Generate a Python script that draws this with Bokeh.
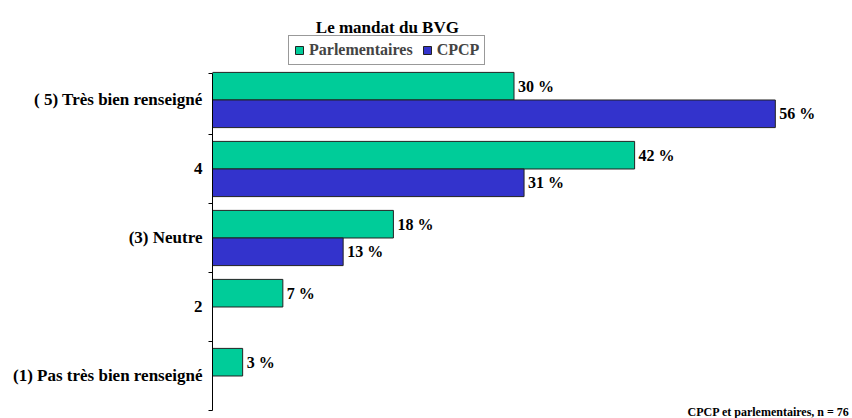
from bokeh.plotting import figure
from bokeh.models import ColumnDataSource, FixedTicker, Label, Legend, LegendItem
from bokeh.core.properties import value
from bokeh.embed import file_html
from bokeh.resources import INLINE

# ---- data ----
categories = ["(1) Pas très bien renseigné", "2", "(3) Neutre", "4", "( 5) Très bien renseigné"]
positions = [1, 2, 3, 4, 5]
parlementaires = [3, 7, 18, 42, 30]
cpcp = [0, 0, 13, 31, 56]
series_names = ["Parlementaires", "CPCP"]
title_text = "Le mandat du BVG"
footnote = "CPCP et  parlementaires, n = 76"

FONT = "Liberation Serif"
GREEN = "#00CC99"
BLUE = "#3333CC"

x_end = 63.68
y_start, y_end = 0.384, 6.442

p = figure(width=852, height=418, output_backend="svg", toolbar_location=None,
           x_range=(0, x_end), y_range=(y_start, y_end),
           min_border_left=212, min_border_right=0, min_border_top=0, min_border_bottom=0)
p.xaxis.visible = False
p.grid.visible = False
p.outline_line_color = None
p.background_fill_color = "white"
p.border_fill_color = "white"

g_src = ColumnDataSource(dict(y=[v + 0.2 for v in positions], x=parlementaires,
                              lab=[f"{v} %" for v in parlementaires]))
b_pos = [pp for pp, v in zip(positions, cpcp) if v > 0]
b_val = [v for v in cpcp if v > 0]
b_src = ColumnDataSource(dict(y=[v - 0.2 for v in b_pos], x=b_val,
                              lab=[f"{v} %" for v in b_val]))

rg = p.hbar(y="y", right="x", left=0, height=0.4, source=g_src,
            fill_color=GREEN, line_color="#222222", line_width=1)
rb = p.hbar(y="y", right="x", left=0, height=0.4, source=b_src,
            fill_color=BLUE, line_color="#222222", line_width=1)

for src in (g_src, b_src):
    p.text(x="x", y="y", text="lab", source=src, x_offset=4,
           text_font=value(FONT), text_font_style="bold", text_font_size="16px",
           text_baseline="middle", text_align="left", text_color="black")

ax = p.yaxis[0]
ax.ticker = FixedTicker(ticks=positions, minor_ticks=[0.5, 1.5, 2.5, 3.5, 4.5, 5.384])
ax.major_label_overrides = {pp: c for pp, c in zip(positions, categories)}
ax.bounds = (0.5, 5.384)
ax.major_tick_line_color = None
ax.major_tick_out = 0
ax.major_tick_in = 0
ax.minor_tick_out = 4
ax.minor_tick_in = 0
ax.minor_tick_line_color = "black"
ax.axis_line_color = "black"
ax.major_label_standoff = 6
ax.major_label_text_font = FONT
ax.major_label_text_font_style = "bold"
ax.major_label_text_font_size = "17px"
ax.major_label_text_color = "black"

legend = Legend(items=[LegendItem(label=series_names[0], renderers=[rg]),
                       LegendItem(label=series_names[1], renderers=[rb])],
                orientation="horizontal", location=(76, 353),
                glyph_width=10, glyph_height=10, label_standoff=5, spacing=9,
                padding=5, margin=0, border_line_color="#333333", border_line_width=1,
                label_text_font=FONT, label_text_font_style="bold",
                label_text_font_size="16px", label_height=16,
                background_fill_alpha=1)
p.add_layout(legend, "center")

p.add_layout(Label(x=17.4, y=6.051, text=title_text, text_align="center",
                   text_baseline="alphabetic", text_font=FONT, text_font_style="bold",
                   text_font_size="17px", text_color="black"))
p.add_layout(Label(x=x_end, y=0.471, text=footnote, text_align="right",
                   text_baseline="alphabetic", text_font=FONT, text_font_style="bold",
                   text_font_size="12px", text_color="black"))

open("out.html", "w").write(file_html(p, INLINE))
